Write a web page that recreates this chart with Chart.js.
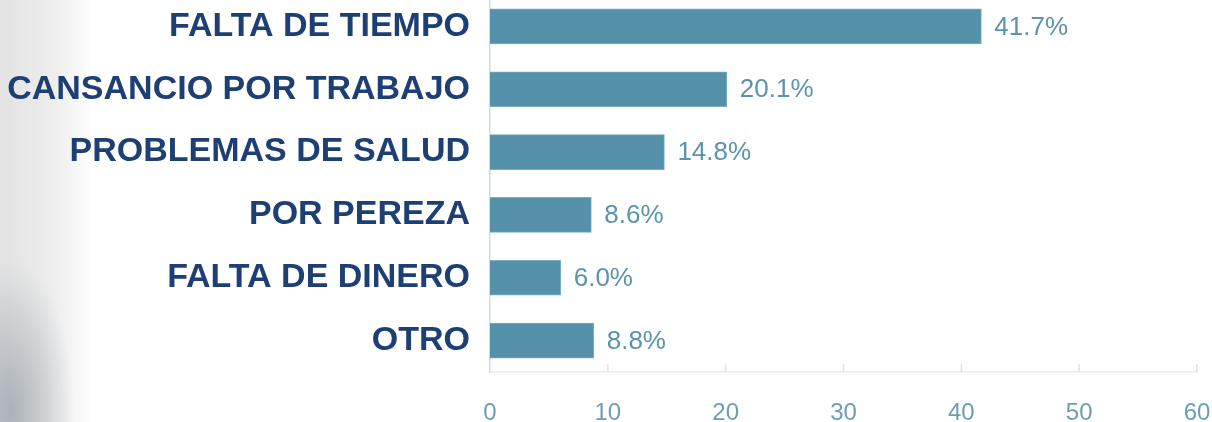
<!DOCTYPE html>
<html>
<head>
<meta charset="utf-8">
<script src="https://cdn.jsdelivr.net/npm/chart.js@4.4.1/dist/chart.umd.min.js"></script>
<style>
  html, body { margin: 0; padding: 0; background: #fff; }
  #wrap { position: relative; width: 1212px; height: 422px; overflow: hidden; }
  #bg {
    position: absolute; left: 0; top: 0; width: 100px; height: 422px;
    background:
      radial-gradient(ellipse 65px 150px at 10px 410px, rgba(145,155,165,0.7), rgba(145,155,165,0) 100%),
      linear-gradient(to right, #e3e3e3 0px, #ebebeb 45px, #f6f6f6 75px, #ffffff 92px);
  }
  canvas { position: absolute; left: 0; top: -5px; }
</style>
</head>
<body>
<div id="wrap">
  <div id="bg"></div>
  <canvas id="myChart" width="1212" height="427"></canvas>
</div>
<script>
// datos
const categorias = ["FALTA DE TIEMPO", "CANSANCIO POR TRABAJO", "PROBLEMAS DE SALUD", "POR PEREZA", "FALTA DE DINERO", "OTRO"];
const valores = [41.7, 20.1, 14.8, 8.6, 6.0, 8.8];
const etiquetas = ["41.7%", "20.1%", "14.8%", "8.6%", "6.0%", "8.8%"];
const ejeMin = 0;
const ejeMax = 60;
const ejePaso = 10;

// etiquetas de valor al final de cada barra
const valorPlugin = {
    id: 'valorPlugin',
    afterDatasetsDraw(chart) {
        const c = chart.ctx;
        const meta = chart.getDatasetMeta(0);
        c.save();
        c.font = '26px "Liberation Sans", Arial, sans-serif';
        c.fillStyle = '#5b94aa';
        c.textAlign = 'left';
        c.textBaseline = 'middle';
        meta.data.forEach((bar, i) => {
            c.fillText(etiquetas[i], bar.x + 13, bar.y + 1);
        });
        c.restore();
    }
};

// marcas cortas del eje x hacia arriba
const marcasPlugin = {
    id: 'marcasPlugin',
    afterDraw(chart) {
        const c = chart.ctx;
        const x = chart.scales.x;
        const bottom = chart.chartArea.bottom;
        c.save();
        c.strokeStyle = '#d6e5eb';
        c.lineWidth = 1.5;
        x.ticks.forEach((t, i) => {
            if (i === 0) return;
            const px = x.getPixelForValue(t.value);
            c.beginPath();
            c.moveTo(px, bottom - 8);
            c.lineTo(px, bottom);
            c.stroke();
        });
        c.restore();
    }
};

const ctx = document.getElementById('myChart');
const grafico = new Chart(ctx, {
    type: 'bar',
    data: {
        labels: categorias,
        datasets: [{
            data: valores,
            backgroundColor: '#5591aa',
            borderColor: '#79abc0',
            borderWidth: 1,
            barThickness: 35
        }]
    },
    plugins: [valorPlugin, marcasPlugin],
    options: {
        indexAxis: 'y',
        responsive: false,
        animation: false,
        layout: { padding: { top: 0, right: 15, bottom: 0, left: 0 } },
        plugins: {
            legend: { display: false },
            tooltip: { enabled: false }
        },
        scales: {
            x: {
                min: ejeMin,
                max: ejeMax,
                ticks: {
                    stepSize: ejePaso,
                    padding: 27,
                    color: '#6c9fb3',
                    font: { family: '"Liberation Sans", Arial, sans-serif', size: 24 }
                },
                grid: { display: false, drawTicks: false },
                border: { display: true, color: '#e4edf0', width: 1.5 },
                afterFit(scale) {
                    scale.height = 50;
                    scale.paddingLeft = 0;
                    scale.paddingRight = 0;
                }
            },
            y: {
                ticks: {
                    padding: 20,
                    color: '#1d3f73',
                    font: { family: '"Liberation Sans", Arial, sans-serif', size: 34, weight: 'bold' }
                },
                grid: { display: false, drawTicks: false },
                border: { display: true, color: '#c9dde6', width: 1.5 },
                afterFit(scale) {
                    scale.width = 490;
                    scale.paddingTop = 0;
                    scale.paddingBottom = 0;
                }
            }
        }
    }
});
</script>
</body>
</html>
